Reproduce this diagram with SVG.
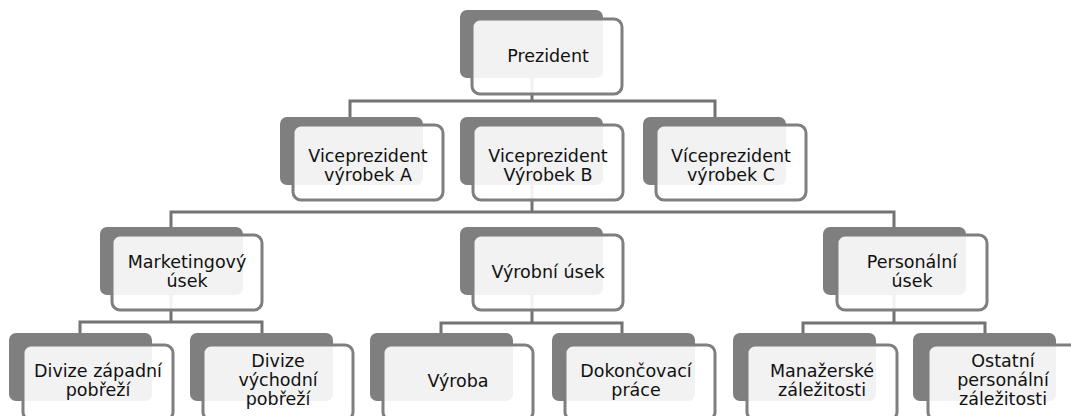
<svg xmlns="http://www.w3.org/2000/svg" width="1071" height="416" viewBox="0 0 1071 416">
<style>
.back{fill:#7f7f7f}
.front{fill:#ffffff;fill-opacity:0.9;stroke:#7f7f7f;stroke-width:3}
.t{font-family:"DejaVu Sans",sans-serif;font-size:17.5px;fill:#111111;text-anchor:middle}
.c{fill:none;stroke:#737373;stroke-width:3;stroke-linejoin:miter}
</style>
<rect width="1071" height="416" fill="#ffffff"/>
<g id="connectors">
<path class="c" d="M532 78 V101 M350 117 V101 H715 V117"/>
<path class="c" d="M532 185 V212 M171 227 V212 H894 V227"/>
<path class="c" d="M171 295 V322 M80 333 V322 H262 V333"/>
<path class="c" d="M532 295 V323 M441 333 V323 H622 V333"/>
<path class="c" d="M894 295 V323 M803 333 V323 H985 V333"/>
</g>
<g id="prezident">
<rect class="back" x="460" y="10" width="143" height="68" rx="7"/>
<rect class="front" x="472" y="19" width="150" height="75" rx="8"/>
<text class="t" x="548" y="62">Prezident</text>
</g>
<g id="vp-a">
<rect class="back" x="280" y="117" width="143" height="68" rx="7"/>
<rect class="front" x="293" y="125" width="150" height="75" rx="8"/>
<text class="t" x="368" y="162">Viceprezident</text>
<text class="t" x="368" y="181">výrobek A</text>
</g>
<g id="vp-b">
<rect class="back" x="460" y="117" width="143" height="68" rx="7"/>
<rect class="front" x="473" y="125" width="150" height="75" rx="8"/>
<text class="t" x="548" y="162">Viceprezident</text>
<text class="t" x="548" y="181">Výrobek B</text>
</g>
<g id="vp-c">
<rect class="back" x="643" y="117" width="143" height="68" rx="7"/>
<rect class="front" x="656" y="125" width="150" height="75" rx="8"/>
<text class="t" x="731" y="162">Víceprezident</text>
<text class="t" x="731" y="181">výrobek C</text>
</g>
<g id="marketing">
<rect class="back" x="100" y="227" width="143" height="68" rx="7"/>
<rect class="front" x="112" y="235" width="150" height="75" rx="8"/>
<text class="t" x="187" y="268">Marketingový</text>
<text class="t" x="187" y="287">úsek</text>
</g>
<g id="vyrobni">
<rect class="back" x="460" y="227" width="143" height="68" rx="7"/>
<rect class="front" x="473" y="235" width="150" height="75" rx="8"/>
<text class="t" x="548" y="278">Výrobní úsek</text>
</g>
<g id="personalni">
<rect class="back" x="823" y="227" width="143" height="68" rx="7"/>
<rect class="front" x="837" y="235" width="150" height="75" rx="8"/>
<text class="t" x="912" y="268">Personální</text>
<text class="t" x="912" y="287">úsek</text>
</g>
<g id="zapad">
<rect class="back" x="9" y="333" width="143" height="68" rx="7"/>
<rect class="front" x="23" y="345" width="150" height="75" rx="8"/>
<text class="t" x="98" y="377">Divize západní</text>
<text class="t" x="98" y="396">pobřeží</text>
</g>
<g id="vychod">
<rect class="back" x="190" y="333" width="143" height="68" rx="7"/>
<rect class="front" x="203" y="345" width="150" height="75" rx="8"/>
<text class="t" x="278" y="367">Divize</text>
<text class="t" x="278" y="386">východní</text>
<text class="t" x="278" y="405">pobřeží</text>
</g>
<g id="vyroba">
<rect class="back" x="370" y="333" width="143" height="68" rx="7"/>
<rect class="front" x="383" y="345" width="150" height="75" rx="8"/>
<text class="t" x="458" y="387">Výroba</text>
</g>
<g id="dokoncovaci">
<rect class="back" x="552" y="333" width="143" height="68" rx="7"/>
<rect class="front" x="565" y="345" width="150" height="75" rx="8"/>
<text class="t" x="636" y="377">Dokončovací</text>
<text class="t" x="636" y="396">práce</text>
</g>
<g id="manazerske">
<rect class="back" x="733" y="333" width="143" height="68" rx="7"/>
<rect class="front" x="747" y="345" width="150" height="75" rx="8"/>
<text class="t" x="822" y="377">Manažerské</text>
<text class="t" x="822" y="396">záležitosti</text>
</g>
<g id="ostatni">
<rect class="back" x="913" y="333" width="143" height="68" rx="7"/>
<rect class="front" x="928" y="345" width="150" height="75" rx="8"/>
<text class="t" x="1003" y="367">Ostatní</text>
<text class="t" x="1003" y="386">personální</text>
<text class="t" x="1003" y="405">záležitosti</text>
</g>
</svg>
